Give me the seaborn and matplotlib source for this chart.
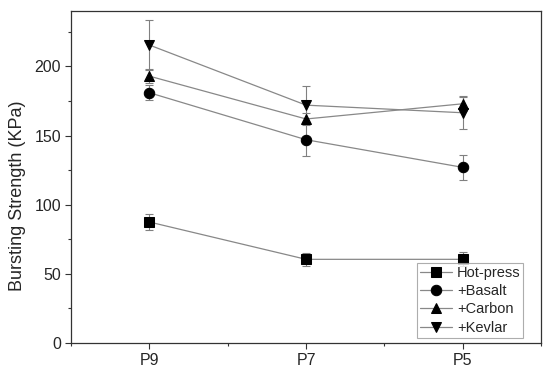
import matplotlib
matplotlib.use("Agg")
import matplotlib.pyplot as plt
import seaborn as sns
import pandas as pd
import numpy as np

categories = ["P9", "P7", "P5"]
series_names = ["Hot-press", "+Basalt", "+Carbon", "+Kevlar"]
hot_press = [87.5, 60.5, 60.5]
hot_press_err = [6, 4.5, 5]
basalt = [181, 147, 127]
basalt_err = [5.5, 12, 9]
carbon = [193, 162, 173]
carbon_err = [5, 4.5, 5]
kevlar = [215.5, 172, 166.5]
kevlar_err = [18, 13.5, 12]

values = [hot_press, basalt, carbon, kevlar]
errors = [hot_press_err, basalt_err, carbon_err, kevlar_err]
markers = ["s", "o", "^", "v"]

rows = []
for name, vals in zip(series_names, values):
    for i, (c, v) in enumerate(zip(categories, vals)):
        rows.append({"pos": i, "cat": c, "series": name, "value": v})
df = pd.DataFrame(rows)

sns.set_style("ticks")
plt.rcParams['font.family'] = ['Liberation Sans', 'DejaVu Sans']

fig, ax = plt.subplots(figsize=(5.5, 3.71), dpi=100)
fig.subplots_adjust(left=0.129, right=0.984, top=0.970, bottom=0.0755)

for name, vals, errs in zip(series_names, values, errors):
    ax.errorbar(np.arange(len(categories)), vals, yerr=errs, fmt="none",
                ecolor="#808080", elinewidth=0.8, capsize=3, capthick=0.8, zorder=1)

sns.lineplot(data=df, x="pos", y="value", hue="series", style="series",
             markers=dict(zip(series_names, markers)), dashes=False,
             palette=["#888888"] * 4, ax=ax, linewidth=0.9,
             markersize=7.5, markerfacecolor="black", markeredgecolor="black",
             zorder=2)

ax.set_xlim(-0.5, 2.5)
ax.set_ylim(0, 240)
ax.set_xticks(range(len(categories)))
ax.set_xticklabels(categories)
ax.set_xticks([-0.5, 0.5, 1.5, 2.5], minor=True)
ax.set_yticks([0, 50, 100, 150, 200])
ax.set_yticks(np.arange(25, 240, 50), minor=True)
ax.set_xlabel("")
ax.set_ylabel("Bursting Strength (KPa)", fontsize=13)
ax.yaxis.set_label_coords(-0.095, 0.443)
ax.tick_params(axis="both", labelsize=11.5, direction="out", length=4, width=0.8,
               color="#333333", pad=3)
ax.tick_params(which="minor", length=2.5, width=0.8, color="#333333")
for s in ax.spines.values():
    s.set_color("#333333")
    s.set_linewidth(0.9)

handles, labels = ax.get_legend_handles_labels()
leg = ax.legend(handles, labels, loc="lower right", bbox_to_anchor=(0.962, 0.016),
                frameon=True, fancybox=False,
                fontsize=10.5, handlelength=2.2, handletextpad=0.35,
                labelspacing=0.3, borderpad=0.2, borderaxespad=0.0)
leg.get_frame().set_edgecolor("#999999")
leg.get_frame().set_linewidth(0.8)

fig.savefig("out.png", dpi=100)
